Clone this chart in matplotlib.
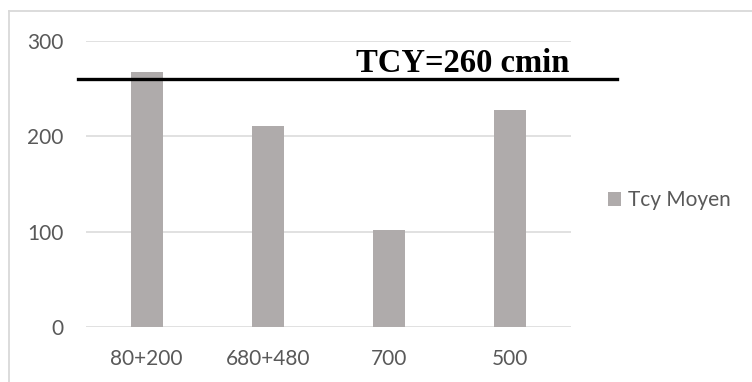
import matplotlib
matplotlib.use('Agg')
import matplotlib.pyplot as plt
from matplotlib.lines import Line2D
from matplotlib.patches import Patch

categories = ['80+200', '680+480', '700', '500']
tcy_moyen = [268, 211, 102, 228]
tcy_cible = 260
yticks = [0, 100, 200, 300]

bar_color = '#AFABAB'
grid_color = '#D9D9D9'
text_color = '#595959'

fig = plt.figure(figsize=(7.52, 3.82), dpi=100)
ax = fig.add_axes([86/752, 55/382, 485/752, 286/382])

x = list(range(len(categories)))
ax.bar(x, tcy_moyen, width=0.264, color=bar_color, zorder=2)

ax.set_xlim(-0.5, len(categories) - 0.5)
ax.set_ylim(0, 300)
ax.set_yticks(yticks)
ax.set_xticks(x)
ax.set_xticklabels(categories)

for s in ax.spines.values():
    s.set_visible(False)
ax.tick_params(length=0, labelsize=15, labelcolor=text_color)
ax.tick_params(axis='y', pad=16)
ax.tick_params(axis='x', pad=16)
for lbl in ax.get_xticklabels() + ax.get_yticklabels():
    lbl.set_fontfamily('Lato')
ax.grid(axis='y', color=grid_color, linewidth=1.1, zorder=0)

# target cycle time line, runs past the plot area
ax.axhline(tcy_cible, xmin=-0.0165, xmax=1.095, color='black',
           linewidth=2.4, clip_on=False, zorder=3)
ax.text(2.609, 267.5, 'TCY=%d cmin' % tcy_cible, ha='center', va='baseline',
        fontfamily='Liberation Serif', fontweight='bold', fontsize=23.5,
        color='black', zorder=4)

# legend
handle = Patch(facecolor=bar_color, edgecolor='none')
leg = fig.legend([handle], ['Tcy Moyen'], loc='center left',
                 bbox_to_anchor=(589/752, 1 - 200/382), frameon=False,
                 handlelength=0.65, handleheight=0.65, handletextpad=0.3,
                 prop={'family': 'Lato', 'size': 15})
for t in leg.get_texts():
    t.set_color(text_color)

# chart border (top and left edges visible)
fig.add_artist(Line2D([9/752, 1], [1 - 11/382, 1 - 11/382], color=grid_color,
                      linewidth=1.3, transform=fig.transFigure))
fig.add_artist(Line2D([9/752, 9/752], [0, 1 - 11/382], color=grid_color,
                      linewidth=1.3, transform=fig.transFigure))

fig.savefig('out.png', dpi=100)
